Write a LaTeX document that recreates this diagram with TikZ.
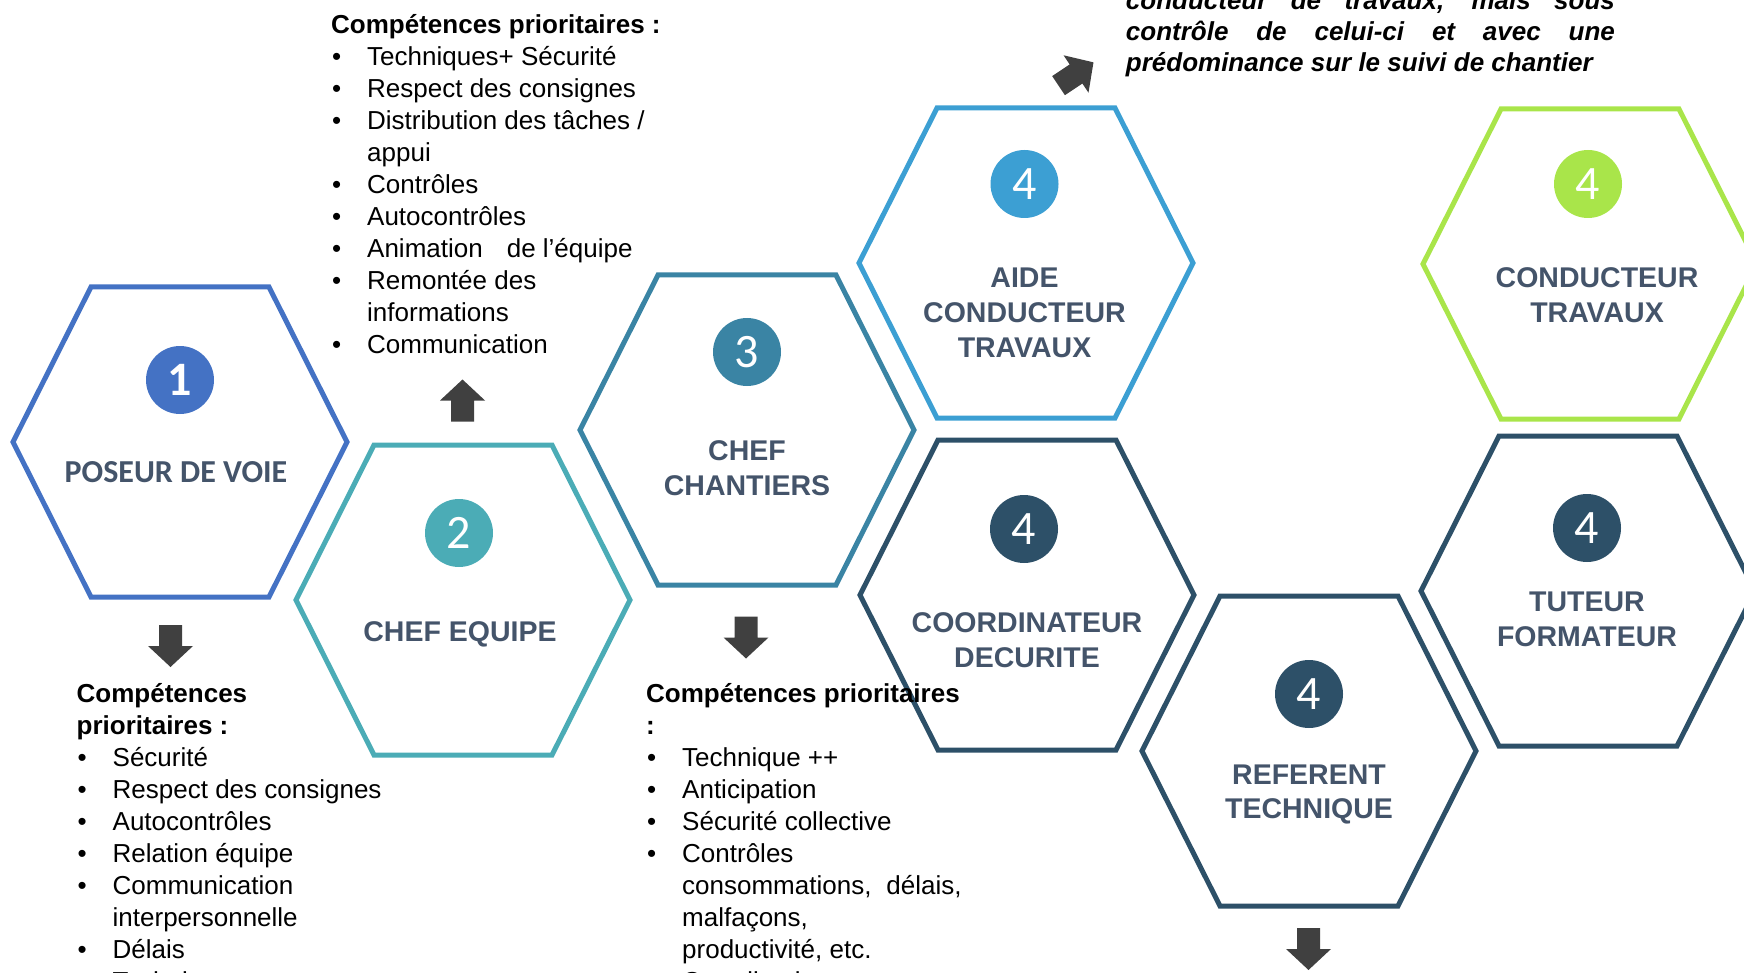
\documentclass[tikz,border=0pt]{standalone}
\usepackage{fontspec}
\setmainfont{Liberation Sans}
\newfontfamily\calibri{Carlito}
\usetikzlibrary{positioning}

\definecolor{poseur}{HTML}{4472C4}
\definecolor{equipe}{HTML}{4BACB6}
\definecolor{chantier}{HTML}{3A84A4}
\definecolor{aide}{HTML}{3C9FD3}
\definecolor{conduc}{HTML}{A9E54A}
\definecolor{navy}{HTML}{2D5068}
\definecolor{slate}{HTML}{44546A}
\definecolor{arrowgray}{HTML}{404040}

\tikzstyle{hexline} = [line width=5pt, line join=miter]
\tikzstyle{badge} = [circle, minimum size=68pt, inner sep=0pt, text=white,
font=\calibri\fontsize{48}{48}\selectfont]
\tikzstyle{title} = [align=center, inner sep=0pt, text=slate,
font=\bfseries\fontsize{28.5}{34.7}\selectfont]
\tikzstyle{skills} = [anchor=north west, align=left, inner sep=0pt,
font=\fontsize{26}{32}\selectfont]
\tikzstyle{note} = [anchor=north west, text width=489pt, align=justify, inner sep=0pt,
font=\bfseries\itshape\fontsize{26}{31}\selectfont]

\newcommand{\hexagon}[2]{%
  \draw[hexline, draw=#2, shift={(#1)}] (-167,0) -- (-89,-155) -- (89,-155)
    -- (167,0) -- (89,155) -- (-89,155) -- cycle;}
\newcommand{\blockarrow}[2]{%
  \fill[arrowgray, shift={(#1)}, rotate=#2] (-21,-11.5) -- (0,-11.5) -- (0,-22.5)
    -- (21,0) -- (0,22.5) -- (0,11.5) -- (-21,11.5) -- cycle;}
\newcommand{\puce}{\hspace*{1pt}\makebox[35pt][l]{\textbullet}}
\newcommand{\suite}{\hspace*{36pt}}
\tolerance=10000

\begin{document}
\begin{tikzpicture}[x=1pt, y=-1pt]

    \clip (0,0) rectangle (1744,973);

    % hexagon centres
    \coordinate (pose) at (180,442);
    \coordinate (equ) at (463,600);
    \coordinate (chan) at (747,430);
    \coordinate (aide) at (1026,263);
    \coordinate (coord) at (1027,595);
    \coordinate (ref) at (1309,751);
    \coordinate (cond) at (1590,264);
    \coordinate (tut) at (1588,591);

    \hexagon{pose}{poseur}
    \hexagon{equ}{equipe}
    \hexagon{chan}{chantier}
    \hexagon{aide}{aide}
    \hexagon{coord}{navy}
    \hexagon{ref}{navy}
    \hexagon{cond}{conduc}
    \hexagon{tut}{navy}

    \node (n1) [badge, fill=poseur, node distance=62pt, above of=pose] {\bfseries 1};
    \node (n2) [badge, fill=equipe, node distance=67pt, above of=equ, xshift=-4pt] {2};
    \node (n3) [badge, fill=chantier, node distance=78pt, above of=chan] {3};
    \node (n4a) [badge, fill=aide, node distance=79pt, above of=aide, xshift=-1.5pt] {4};
    \node (n4b) [badge, fill=navy, node distance=66pt, above of=coord, xshift=-3pt] {4};
    \node (n4c) [badge, fill=navy, node distance=57pt, above of=ref] {4};
    \node (n4d) [badge, fill=conduc, node distance=80pt, above of=cond, xshift=-2pt] {4};
    \node (n4e) [badge, fill=navy, node distance=63pt, above of=tut, xshift=-1pt] {4};

    \node (t1) [title, node distance=30pt, below of=pose, xshift=-4pt,
    font=\calibri\bfseries\fontsize{32}{32}\selectfont] {POSEUR DE VOIE};
    \node (t2) [title, node distance=34pt, below of=equ, xshift=-3pt] {CHEF EQUIPE};
    \node (t3) [title, node distance=38.5pt, below of=chan] {CHEF\\CHANTIERS};
    \node (t4a) [title, node distance=50pt, below of=aide, xshift=-1.5pt] {AIDE\\CONDUCTEUR\\TRAVAUX};
    \node (t4b) [title, node distance=45pt, below of=coord] {COORDINATEUR\\DECURITE};
    \node (t4c) [title, node distance=43.5pt, below of=ref] {REFERENT\\TECHNIQUE};
    \node (t4d) [title, node distance=31.5pt, below of=cond, xshift=7pt] {CONDUCTEUR\\TRAVAUX};
    \node (t4e) [title, node distance=28pt, below of=tut, xshift=-1pt] {TUTEUR\\FORMATEUR};

    % block arrows
    \coordinate (dn1) at (170.5,646);
    \coordinate (up2) at (462.5,400.5);
    \coordinate (dn3) at (746,637.5);
    \coordinate (ne4) at (1076,74);
    \coordinate (dn5) at (1308.5,949);
    \blockarrow{dn1}{-90}
    \blockarrow{up2}{90}
    \blockarrow{dn3}{-90}
    \blockarrow{ne4}{33.7}
    \blockarrow{dn5}{-90}

    \node (skill2) [skills] at (331,10.6) {\strut\textbf{Compétences prioritaires :}\\
    \puce Techniques+ Sécurité\\
    \puce Respect des consignes\\
    \puce Distribution des tâches /\\
    \suite appui\\
    \puce Contrôles\\
    \puce Autocontrôles\\
    \puce Animation\hspace{24pt}de l’équipe\\
    \puce Remontée des\\
    \suite informations\\
    \puce Communication};

    \node (skill1) [skills] at (76.5,679.6) {\strut\textbf{Compétences}\\
    \textbf{prioritaires :}\\
    \puce Sécurité\\
    \puce Respect des consignes\\
    \puce Autocontrôles\\
    \puce Relation équipe\\
    \puce Communication\\
    \suite interpersonnelle\\
    \puce Délais\\
    \puce Technique};

    \node (skill3) [skills] at (646,679.6) {\strut\textbf{Compétences prioritaires}\\
    \textbf{:}\\
    \puce Technique ++\\
    \puce Anticipation\\
    \puce Sécurité collective\\
    \puce Contrôles\\
    \suite consommations,\hspace{15pt}délais,\\
    \suite malfaçons,\\
    \suite productivité, etc.\\
    \puce Coordination};

    \node (role) [note] at (1125.7,-12) {\noindent\strut conducteur de travaux, mais sous\linebreak
    contrôle de celui-ci et avec une\linebreak
    prédominance sur le suivi de chantier};

\end{tikzpicture}
\end{document}
